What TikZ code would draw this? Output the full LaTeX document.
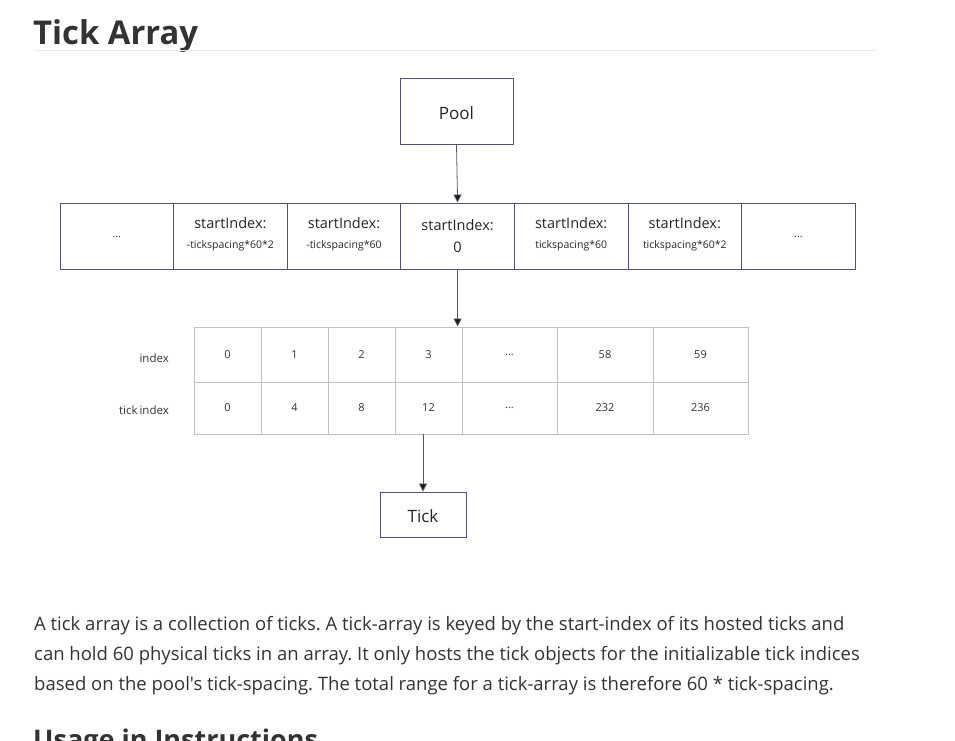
\documentclass[tikz,border=0pt]{standalone}
\usepackage{fontspec}
\setmainfont{Open Sans}[Ligatures=TeXOff]
\usetikzlibrary{arrows.meta}
\frenchspacing
\definecolor{txt}{RGB}{51,51,51}
\definecolor{boxc}{RGB}{78,82,122}
\definecolor{cellc}{RGB}{192,192,192}
\definecolor{arrc}{RGB}{90,90,90}
\definecolor{rulec}{RGB}{234,234,234}
\newcommand{\bigt}{\fontsize{14.5}{17}\selectfont}
\newcommand{\smt}{\fontsize{10.5}{12}\selectfont}
\tikzset{
  box/.style={draw=boxc, line width=0.9pt, inner sep=0pt, align=center, text=black!85},
  cell/.style={draw=cellc, line width=0.9pt, inner sep=0pt, minimum height=#1, font=\fontsize{11}{13}\selectfont, text=black!80},
  conn/.style={draw=arrc, line width=0.8pt, -{Triangle[width=8pt,length=8pt,fill=black!90]}},
  sbox/.style={box, minimum width=113.6pt, minimum height=66pt},
  lab/.style={anchor=base, inner sep=0, text=black!85},
}
\begin{document}
\begin{tikzpicture}[x=1pt,y=-1pt]
\useasboundingbox (0,0) rectangle (955,740);
\begin{scope}
\clip (0,0) rectangle (955,740);
% title
\node[anchor=base west, inner sep=0, text=txt, font=\fontsize{32.8}{36}\selectfont\bfseries] (title) at (33,44) {Tick Array};
\draw[rulec, line width=1pt] (34,50.5) -- (876,50.5);
% pool
\node[box, minimum width=113pt, minimum height=66pt, font=\fontsize{17}{20}\selectfont] (pool) at (456.5,111) {\raisebox{-8.5pt}[0pt][0pt]{Pool}};
% row of start indices
\node[sbox, font=\smt] (s1) at (116.8,236) {\raisebox{-1pt}[0pt][0pt]{...}};
\node[sbox] (s2) at (230.4,236) {};
\node[sbox] (s3) at (344,236) {};
\node[sbox] (s4) at (457.6,236) {};
\node[sbox] (s5) at (571.2,236) {};
\node[sbox] (s6) at (684.8,236) {};
\node[sbox, font=\smt] (s7) at (798.4,236) {\raisebox{-1pt}[0pt][0pt]{...}};
\node[lab, font=\bigt] (t2a) at (s2.center |- 0,228) {startIndex:};
\node[lab, font=\smt] (t2b) at (s2.center |- 0,248) {-tickspacing*60*2};
\node[lab, font=\bigt] (t3a) at (s3.center |- 0,228) {startIndex:};
\node[lab, font=\smt] (t3b) at (s3.center |- 0,248) {-tickspacing*60};
\node[lab, font=\bigt] (t4a) at (s4.center |- 0,230.5) {startIndex:};
\node[lab, font=\bigt] (t4b) at (s4.center |- 0,252) {0};
\node[lab, font=\bigt] (t5a) at (s5.center |- 0,228) {startIndex:};
\node[lab, font=\smt] (t5b) at (s5.center |- 0,248) {tickspacing*60};
\node[lab, font=\bigt] (t6a) at (s6.center |- 0,228) {startIndex:};
\node[lab, font=\smt] (t6b) at (s6.center |- 0,248) {tickspacing*60*2};
% table
\node[cell=55pt, minimum width=67pt] (a1) at (227.5,354.5) {0};
\node[cell=55pt, minimum width=67pt] (a2) at (294.5,354.5) {1};
\node[cell=55pt, minimum width=67pt] (a3) at (361.5,354.5) {2};
\node[cell=55pt, minimum width=67pt] (a4) at (428.5,354.5) {3};
\node[cell=55pt, minimum width=95pt] (a5) at (509.5,354.5) {...};
\node[cell=55pt, minimum width=96pt] (a6) at (605,354.5) {58};
\node[cell=55pt, minimum width=95pt] (a7) at (700.5,354.5) {59};
\node[cell=52pt, minimum width=67pt] (b1) at (227.5,408) {0};
\node[cell=52pt, minimum width=67pt] (b2) at (294.5,408) {4};
\node[cell=52pt, minimum width=67pt] (b3) at (361.5,408) {8};
\node[cell=52pt, minimum width=67pt] (b4) at (428.5,408) {12};
\node[cell=52pt, minimum width=95pt] (b5) at (509.5,408) {...};
\node[cell=52pt, minimum width=96pt] (b6) at (605,408) {232};
\node[cell=52pt, minimum width=95pt] (b7) at (700.5,408) {236};
\node[anchor=east, inner sep=0, font=\fontsize{11.5}{13}\selectfont, text=black!80] (lidx) at (169,358) {index};
\node[anchor=east, inner sep=0, font=\fontsize{11.5}{13}\selectfont, text=black!80] (ltidx) at (169,410) {tick\,index};
% tick
\node[box, minimum width=86pt, minimum height=45pt, font=\fontsize{17}{20}\selectfont] (tick) at (423,514.5) {\raisebox{-8pt}[0pt][0pt]{Tick}};
% connectors
\draw[conn] (pool.south) -- (s4.north);
\draw[conn] (s4.south) -- (s4.south |- a4.north);
\coordinate (tstart) at (tick.north |- b4.south);
\draw[conn] (tstart) -- (tick.north);
% paragraph
\begin{scope}[every node/.style={anchor=base west, inner sep=0, text=txt, font=\fontsize{18.5}{21}\selectfont}]
\node (p1) at (34,630) {A tick array is a collection of ticks. A tick-array is keyed by the start-index of its hosted ticks and};
\node (p2) at (34,660) {can hold 60 physical ticks in an array. It only hosts the tick objects for the initializable tick indices};
\node (p3) at (34,690) {based on the pool's tick-spacing. The total range for a tick-array is therefore 60 * tick-spacing.};
\end{scope}
\node[anchor=base west, inner sep=0, text=txt, font=\fontsize{27}{30}\selectfont\bfseries] (usage) at (33,749) {Usage in Instructions};
\end{scope}
\end{tikzpicture}
\end{document}
